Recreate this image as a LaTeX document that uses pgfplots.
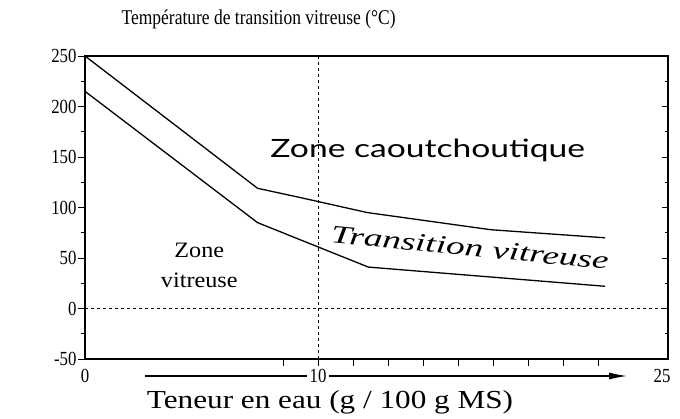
\documentclass[border=0pt]{standalone}
\usepackage{fontspec}
\setmainfont{Liberation Serif}
\newfontfamily\zonefont{Lato}
\usepackage{pgfplots}
\pgfplotsset{compat=1.18}
\usetikzlibrary{arrows.meta}

\begin{document}
\begin{tikzpicture}
\useasboundingbox (-85pt,-60pt) rectangle (595pt,359pt);
\begin{axis}[
    scale only axis,
    width=583pt,
    height=303pt,
    xmin=0, xmax=25,
    ymin=-50, ymax=250,
    axis line style={line width=1.2pt},
    xtick={8.5,10,11.5,13,14.5,16,17.5,19,20.5,22},
    xticklabels={},
    xtick pos=bottom,
    ytick={-50,0,...,250},
    minor y tick num=1,
    ytick pos=left,
    tick align=outside,
    major tick length=7pt,
    minor tick length=4pt,
    tick style={black, line width=0.8pt},
    /pgf/number format/assume math mode=true,
    yticklabel={\scalebox{1.05}[1.25]{\pgfmathprintnumber{\tick}}},
    yticklabel style={font=\fontsize{16}{16}\selectfont, xshift=2pt},
    clip=false,
]
% glass transition bounds
\addplot[black, line width=1.3pt] coordinates {
(0,250) (7.4,119) (9.2,110) (12.1,95) (17.4,78) (22.3,70)
};
\addplot[black, line width=1.3pt] coordinates {
(0,215) (7.4,85) (12.15,41) (22.3,22)
};
% reference lines
\addplot[black, dashed, line width=0.6pt] coordinates {(0,0) (25,0)};
\addplot[black, dashed, line width=0.6pt] coordinates {(10,-50) (10,250)};
\draw[black, line width=2pt] (axis cs:0,-50) -- (axis cs:0,250);

\node[font=\zonefont\fontsize{24}{24}\selectfont] at (axis cs:14.7,157)
    {\scalebox{1.4}[1.05]{Zone caoutchoutique}};
\node[font=\itshape\fontsize{24}{24}\selectfont, rotate=-5.5] at (axis cs:16.5,60)
    {\scalebox{1.55}[1.05]{Transition vitreuse}};
\node[font=\fontsize{22}{30}\selectfont, align=center] at (axis cs:4.9,43)
    {\scalebox{1.1}[1]{Zone}\\\scalebox{1.1}[1]{vitreuse}};
\end{axis}

% right-hand inner ticks
\begin{axis}[
    scale only axis,
    width=583pt,
    height=303pt,
    xmin=0, xmax=25,
    ymin=-50, ymax=250,
    hide x axis,
    axis y line*=right,
    axis line style={line width=1.2pt},
    ytick={-50,0,...,250},
    minor y tick num=1,
    yticklabels={},
    tick align=inside,
    major tick length=6pt,
    minor tick length=3pt,
    tick style={black, line width=0.8pt},
]
\end{axis}

% title and x-axis annotation
\node[anchor=base west, font=\fontsize{17.5}{17.5}\selectfont] at (33pt,334pt)
    {\scalebox{1}[1.2]{Température de transition vitreuse (°C)}};
\begin{scope}[every node/.style={inner sep=0pt, font=\fontsize{16}{16}\selectfont}]
\node at (0pt,-17pt) {\scalebox{1.05}[1.25]{0}};
\node at (233pt,-17pt) {\scalebox{1.05}[1.25]{10}};
\node at (577pt,-17pt) {\scalebox{1.05}[1.25]{25}};
\end{scope}
\draw[line width=1.1pt] (60pt,-17pt) -- (222pt,-17pt);
\draw[line width=1.1pt, -{Latex[length=18pt,width=7pt]}] (244pt,-17pt) -- (542pt,-17pt);
\node[inner sep=0pt, font=\fontsize{26}{26}\selectfont] at (245pt,-43pt)
    {\scalebox{1.2}[1]{Teneur en eau (g / 100 g MS)}};
\end{tikzpicture}
\end{document}
